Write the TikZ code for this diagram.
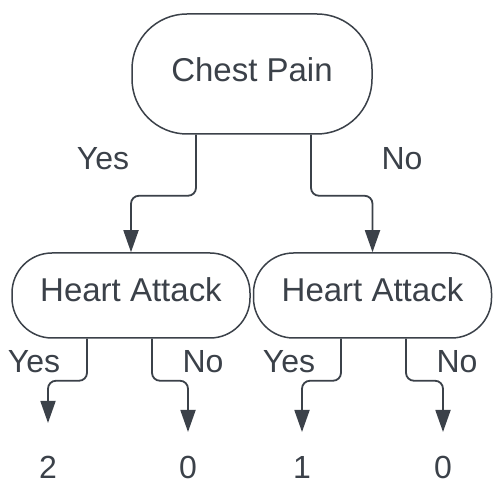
\documentclass[tikz,border=0pt]{standalone}
\usepackage{fontspec}
\setmainfont{Liberation Sans}
\usetikzlibrary{arrows.meta, positioning}
\definecolor{ink}{HTML}{3B4149}
\tikzstyle{root} = [rectangle, rounded corners=55pt, minimum width=240pt, minimum height=120pt, text centered, draw=ink, line width=1.5pt, text=ink, text depth=8pt, font=\fontsize{33}{36}\selectfont]
\tikzstyle{split} = [rectangle, rounded corners=40pt, minimum width=238pt, minimum height=85pt, text centered, draw=ink, line width=1.5pt, text=ink, text depth=11pt, font=\fontsize{33}{36}\selectfont]
\tikzstyle{tag} = [text=ink, font=\fontsize{32}{34}\selectfont]
\tikzstyle{arrow} = [draw=ink, line width=1.8pt, rounded corners=8pt, -{Triangle[width=15pt,length=22pt]}]

\begin{document}
\begin{tikzpicture}[x=1pt, y=-1pt]
\useasboundingbox (0,0) rectangle (504,502);

% --- Decision nodes ---
\node (Chest) [root] at (252,74) {Chest Pain};
\node (HeartL) [split] at (131,295.5) {Heart Attack};
\node (HeartR) [split] at (372.5,295.5) {Heart Attack};

% --- Leaves ---
\node (LeafA) [tag] at (48,467) {2};
\node (LeafB) [tag] at (188,467) {0};
\node (LeafC) [tag] at (302,467) {1};
\node (LeafD) [tag] at (443,467) {0};
\coordinate (TipA) at (48,423);
\coordinate (TipB) at (188,432);
\coordinate (TipC) at (302,432);
\coordinate (TipD) at (443,432);

% --- Branch labels ---
\node (YesTop) [tag] at (103,159) {Yes};
\node (NoTop) [tag] at (402,159) {No};
\node (YesL) [tag] at (34,362) {Yes};
\node (NoL) [tag] at (203,362) {No};
\node (YesR) [tag] at (289,362) {Yes};
\node (NoR) [tag] at (457,362) {No};

% --- Arrows ---
\draw [arrow] ([xshift=-56pt]Chest.south) -- ++(0,61) -| (HeartL.north);
\draw [arrow] ([xshift=59pt]Chest.south) -- ++(0,61) -| (HeartR.north);
\draw [arrow] ([xshift=-44pt]HeartL.south) -- ++(0,42) -| (TipA);
\draw [arrow] ([xshift=21pt]HeartL.south) -- ++(0,42) -| (TipB);
\draw [arrow] ([xshift=-31.5pt]HeartR.south) -- ++(0,42) -| (TipC);
\draw [arrow] ([xshift=33.5pt]HeartR.south) -- ++(0,42) -| (TipD);

\end{tikzpicture}
\end{document}
